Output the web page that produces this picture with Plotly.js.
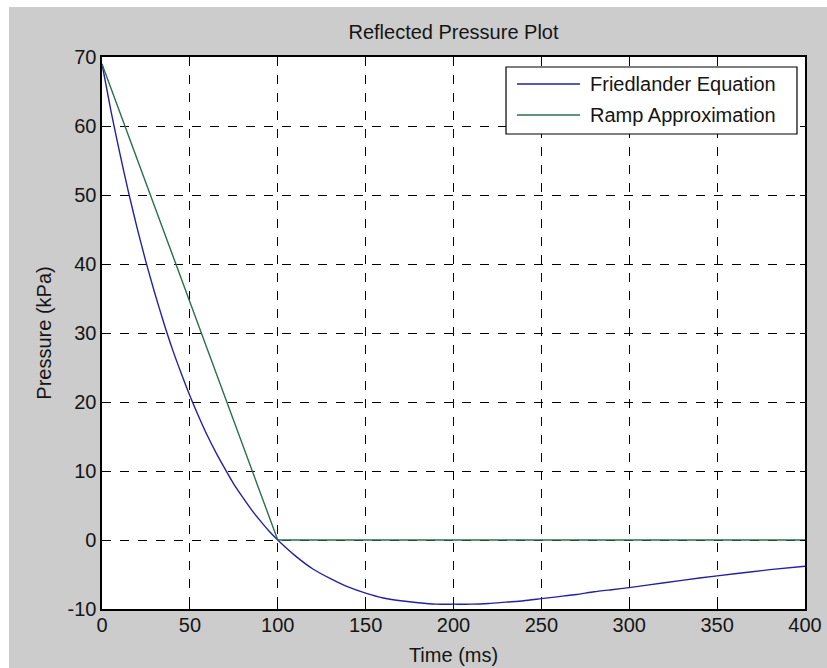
<!DOCTYPE html>
<html>
<head>
<meta charset="utf-8">
<script src="https://cdn.plot.ly/plotly-3.0.1.min.js"></script>
<style>
  html, body { margin: 0; padding: 0; background: #ffffff; width: 827px; height: 668px; overflow: hidden; }
  #chart { position: absolute; left: 9px; top: 7px; width: 818px; height: 661px; }
</style>
</head>
<body>
<div id="chart"></div>
<script>
// Time samples (ms) for the Friedlander curve
const friedTime = [0, 5, 10, 15, 20, 25, 30, 35, 40, 45, 50, 55, 60, 65, 70, 75, 80, 85, 90, 95, 100,
  110, 120, 130, 140, 150, 160, 170, 180, 190, 200, 210, 220, 230, 240, 250, 260, 270, 280, 290, 300,
  320, 340, 360, 380, 400];
// Pressure (kPa)
const friedPressure = [69, 62.3, 56.2, 50.5, 45.2, 40.3, 35.8, 31.6, 27.7, 24.2, 20.9, 17.9, 15.1, 12.6, 10.3, 8.1, 6.2, 4.4, 2.8, 1.3, 0,
  -2.3, -4.2, -5.6, -6.8, -7.7, -8.4, -8.8, -9.1, -9.3, -9.3, -9.3, -9.2, -9.0, -8.8, -8.5, -8.2, -7.9, -7.5, -7.2, -6.9,
  -6.2, -5.5, -4.9, -4.3, -3.8];
// Ramp approximation (green)
const rampTime = [0, 100, 400];
const rampPressure = [69, 0, 0];

const seriesNames = ["Friedlander Equation", "Ramp Approximation"];
const seriesColors = ["#2222a0", "#2a7048"];
const xTicks = [0, 50, 100, 150, 200, 250, 300, 350, 400];
const yTicks = [-10, 0, 10, 20, 30, 40, 50, 60, 70];

const fontFam = "Liberation Sans, Arial, sans-serif";
const fontSize = 20;
const txtColor = "#151515";

const traces = [
  { x: friedTime, y: friedPressure, type: "scatter", mode: "lines", name: seriesNames[0],
    line: { color: seriesColors[0], width: 1.4, shape: "spline", smoothing: 0.6 } },
  { x: rampTime, y: rampPressure, type: "scatter", mode: "lines", name: seriesNames[1],
    line: { color: seriesColors[1], width: 1.4 } }
];

const axisCommon = {
  showline: true, linecolor: "#000000", linewidth: 1.6, mirror: "ticks",
  ticks: "inside", ticklen: 5, tickcolor: "#000000", tickwidth: 1,
  showgrid: true, gridcolor: "#000000", gridwidth: 1, griddash: "dash",
  zeroline: false, tickfont: { family: fontFam, size: fontSize, color: txtColor },
  fixedrange: true
};

// Manual MATLAB-style legend (paper coordinates of the plot area)
const legBox = { x0: 0.5747, x1: 0.9886, y0: 0.8605, y1: 0.9819 };
const legRowsY = [0.9511, 0.8949];
const legLineX = [0.5903, 0.6799];
const legTextX = 0.6913;

const shapes = [
  { type: "rect", xref: "paper", yref: "paper", x0: legBox.x0, x1: legBox.x1, y0: legBox.y0, y1: legBox.y1,
    fillcolor: "#ffffff", line: { color: "#000000", width: 1.2 }, layer: "above" }
];
const annotations = [];
seriesNames.forEach((nm, i) => {
  shapes.push({ type: "line", xref: "paper", yref: "paper", x0: legLineX[0], x1: legLineX[1],
    y0: legRowsY[i], y1: legRowsY[i], line: { color: seriesColors[i], width: 1.4 }, layer: "above" });
  annotations.push({ xref: "paper", yref: "paper", x: legTextX, y: legRowsY[i], xanchor: "left", yanchor: "middle",
    text: nm, showarrow: false, font: { family: fontFam, size: fontSize, color: txtColor } });
});

const layout = {
  width: 818, height: 661,
  paper_bgcolor: "#cccccc", plot_bgcolor: "#ffffff",
  margin: { l: 93, r: 22, t: 50, b: 59 },
  title: { text: "Reflected Pressure Plot", font: { family: fontFam, size: fontSize, color: txtColor },
           x: 0.5, xanchor: "center", xref: "paper", y: 0.962, yanchor: "middle" },
  xaxis: Object.assign({}, axisCommon, {
    range: [0, 400], tickvals: xTicks, ticktext: xTicks.map(String), ticklabelstandoff: -3,
    title: { text: "Time (ms)", font: { family: fontFam, size: fontSize, color: txtColor }, standoff: 13 }
  }),
  yaxis: Object.assign({}, axisCommon, {
    range: [-10, 70], tickvals: yTicks, ticktext: yTicks.map(String),
    title: { text: "Pressure (kPa)", font: { family: fontFam, size: fontSize, color: txtColor }, standoff: 10 }
  }),
  showlegend: false,
  shapes: shapes,
  annotations: annotations
};

Plotly.newPlot("chart", traces, layout, { displayModeBar: false, staticPlot: true });
</script>
</body>
</html>
